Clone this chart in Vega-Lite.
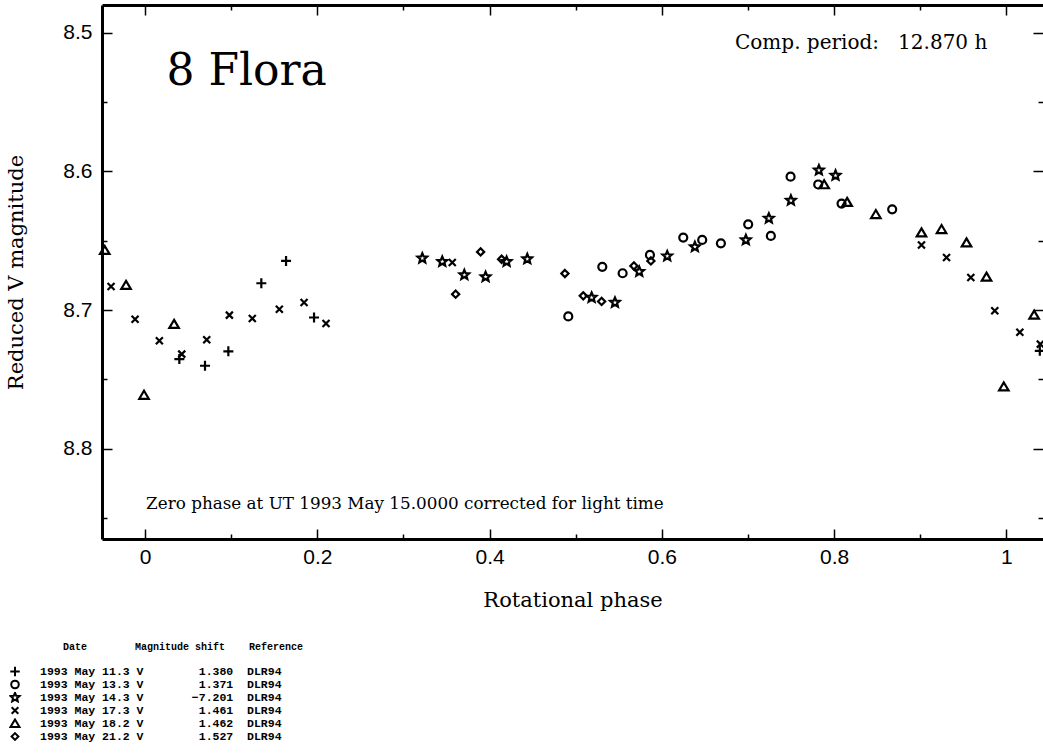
{
  "$schema": "https://vega.github.io/schema/vega-lite/v6.json",
  "autosize": {"type": "none"},
  "width": 941,
  "height": 534,
  "padding": {"left": 102, "top": 5, "right": 0, "bottom": 217},
  "background": "white",
  "config": {
    "view": {"stroke": null},
    "axis": {"grid": false, "domainColor": "black", "tickColor": "black", "labelColor": "black", "titleColor": "black", "tickWidth": 1.5},
    "text": {"color": "black"}
  },
  "datasets": {
    "sessions": [
      {"date": "1993 May 11.3", "band": "V", "shift": "1.380", "ref": "DLR94"},
      {"date": "1993 May 13.3", "band": "V", "shift": "1.371", "ref": "DLR94"},
      {"date": "1993 May 14.3", "band": "V", "shift": "\u22127.201", "ref": "DLR94"},
      {"date": "1993 May 17.3", "band": "V", "shift": "1.461", "ref": "DLR94"},
      {"date": "1993 May 18.2", "band": "V", "shift": "1.462", "ref": "DLR94"},
      {"date": "1993 May 21.2", "band": "V", "shift": "1.527", "ref": "DLR94"}
    ],
    "points": [
      {"date": "1993 May 11.3", "phase": 0.0398, "mag": 8.7353},
      {"date": "1993 May 11.3", "phase": 0.0696, "mag": 8.7401},
      {"date": "1993 May 11.3", "phase": 0.0967, "mag": 8.7297},
      {"date": "1993 May 11.3", "phase": 0.135, "mag": 8.6806},
      {"date": "1993 May 11.3", "phase": 0.1637, "mag": 8.6645},
      {"date": "1993 May 11.3", "phase": 0.1962, "mag": 8.7053},
      {"date": "1993 May 11.3", "phase": 1.0389, "mag": 8.7293},
      {"date": "1993 May 13.3", "phase": 0.4914, "mag": 8.7045},
      {"date": "1993 May 13.3", "phase": 0.5309, "mag": 8.6688},
      {"date": "1993 May 13.3", "phase": 0.5545, "mag": 8.6734},
      {"date": "1993 May 13.3", "phase": 0.5862, "mag": 8.6602},
      {"date": "1993 May 13.3", "phase": 0.6249, "mag": 8.6477},
      {"date": "1993 May 13.3", "phase": 0.6469, "mag": 8.6494},
      {"date": "1993 May 13.3", "phase": 0.6686, "mag": 8.6518},
      {"date": "1993 May 13.3", "phase": 0.7003, "mag": 8.6381},
      {"date": "1993 May 13.3", "phase": 0.7266, "mag": 8.6465},
      {"date": "1993 May 13.3", "phase": 0.7495, "mag": 8.6038},
      {"date": "1993 May 13.3", "phase": 0.7816, "mag": 8.6094},
      {"date": "1993 May 13.3", "phase": 0.8087, "mag": 8.6232},
      {"date": "1993 May 13.3", "phase": 0.8675, "mag": 8.6273},
      {"date": "1993 May 14.3", "phase": 0.3219, "mag": 8.6626},
      {"date": "1993 May 14.3", "phase": 0.3451, "mag": 8.665},
      {"date": "1993 May 14.3", "phase": 0.3707, "mag": 8.6746},
      {"date": "1993 May 14.3", "phase": 0.3954, "mag": 8.676},
      {"date": "1993 May 14.3", "phase": 0.4198, "mag": 8.665},
      {"date": "1993 May 14.3", "phase": 0.4438, "mag": 8.6631},
      {"date": "1993 May 14.3", "phase": 0.5185, "mag": 8.6909},
      {"date": "1993 May 14.3", "phase": 0.5456, "mag": 8.6945},
      {"date": "1993 May 14.3", "phase": 0.5738, "mag": 8.6722},
      {"date": "1993 May 14.3", "phase": 0.6063, "mag": 8.661},
      {"date": "1993 May 14.3", "phase": 0.6384, "mag": 8.6544},
      {"date": "1993 May 14.3", "phase": 0.6976, "mag": 8.6494},
      {"date": "1993 May 14.3", "phase": 0.7243, "mag": 8.6338},
      {"date": "1993 May 14.3", "phase": 0.7499, "mag": 8.6209},
      {"date": "1993 May 14.3", "phase": 0.7824, "mag": 8.5991},
      {"date": "1993 May 14.3", "phase": 0.8017, "mag": 8.6029},
      {"date": "1993 May 17.3", "phase": -0.0395, "mag": 8.683},
      {"date": "1993 May 17.3", "phase": -0.0116, "mag": 8.7065},
      {"date": "1993 May 17.3", "phase": 0.0166, "mag": 8.7221},
      {"date": "1993 May 17.3", "phase": 0.0426, "mag": 8.7317},
      {"date": "1993 May 17.3", "phase": 0.0716, "mag": 8.7214},
      {"date": "1993 May 17.3", "phase": 0.0979, "mag": 8.7036},
      {"date": "1993 May 17.3", "phase": 0.1245, "mag": 8.706},
      {"date": "1993 May 17.3", "phase": 0.1559, "mag": 8.6993},
      {"date": "1993 May 17.3", "phase": 0.1846, "mag": 8.6945},
      {"date": "1993 May 17.3", "phase": 0.2101, "mag": 8.7096},
      {"date": "1993 May 17.3", "phase": 0.3567, "mag": 8.6657},
      {"date": "1993 May 17.3", "phase": 0.9015, "mag": 8.653},
      {"date": "1993 May 17.3", "phase": 0.9306, "mag": 8.6621},
      {"date": "1993 May 17.3", "phase": 0.9588, "mag": 8.6765},
      {"date": "1993 May 17.3", "phase": 0.9866, "mag": 8.7005},
      {"date": "1993 May 17.3", "phase": 1.0157, "mag": 8.716},
      {"date": "1993 May 17.3", "phase": 1.0395, "mag": 8.7245},
      {"date": "1993 May 18.2", "phase": -0.0468, "mag": 8.6568},
      {"date": "1993 May 18.2", "phase": -0.0221, "mag": 8.682},
      {"date": "1993 May 18.2", "phase": -0.0012, "mag": 8.7612},
      {"date": "1993 May 18.2", "phase": 0.0337, "mag": 8.7101},
      {"date": "1993 May 18.2", "phase": 0.7885, "mag": 8.6094},
      {"date": "1993 May 18.2", "phase": 0.8152, "mag": 8.6221},
      {"date": "1993 May 18.2", "phase": 0.8485, "mag": 8.6309},
      {"date": "1993 May 18.2", "phase": 0.9015, "mag": 8.6441},
      {"date": "1993 May 18.2", "phase": 0.9248, "mag": 8.6417},
      {"date": "1993 May 18.2", "phase": 0.9538, "mag": 8.6513},
      {"date": "1993 May 18.2", "phase": 0.977, "mag": 8.676},
      {"date": "1993 May 18.2", "phase": 0.9971, "mag": 8.7552},
      {"date": "1993 May 18.2", "phase": 1.0323, "mag": 8.7034},
      {"date": "1993 May 21.2", "phase": 0.3606, "mag": 8.6885},
      {"date": "1993 May 21.2", "phase": 0.3896, "mag": 8.658},
      {"date": "1993 May 21.2", "phase": 0.414, "mag": 8.6633},
      {"date": "1993 May 21.2", "phase": 0.4875, "mag": 8.6736},
      {"date": "1993 May 21.2", "phase": 0.5088, "mag": 8.6897},
      {"date": "1993 May 21.2", "phase": 0.5301, "mag": 8.6937},
      {"date": "1993 May 21.2", "phase": 0.5676, "mag": 8.6681},
      {"date": "1993 May 21.2", "phase": 0.5873, "mag": 8.6645}
    ]
  },
  "layer": [
    {
      "data": {"name": "points"},
      "transform": [
        {"lookup": "date", "from": {"data": {"name": "sessions"}, "key": "date", "fields": ["band", "shift", "ref"]}},
        {"calculate": "datum.date + '\u00a0' + datum.band + pad(datum.shift, 13, '\u00a0', 'left') + '\u00a0\u00a0' + datum.ref", "as": "key"}
      ],
      "mark": {"type": "point", "filled": false, "color": "black", "strokeWidth": 2.2, "size": 100, "opacity": 1},
      "encoding": {
        "x": {
          "field": "phase", "type": "quantitative",
          "scale": {"domain": [-0.05, 1.0426], "nice": false, "zero": false},
          "axis": {"orient": "bottom", "values": [0, 0.2, 0.4, 0.6, 0.8, 1], "format": "~g", "tickSize": -10, "labelPadding": 17,
            "labelFont": "Liberation Sans Narrow, Liberation Sans, sans-serif", "labelFontSize": 21, "domainWidth": 3,
            "title": "Rotational phase", "titleFont": "DejaVu Serif", "titleFontSize": 21, "titleFontWeight": "normal", "titlePadding": 22}
        },
        "y": {
          "field": "mag", "type": "quantitative",
          "scale": {"domain": [8.48, 8.865], "reverse": true, "nice": false, "zero": false},
          "axis": {"orient": "left", "values": [8.5, 8.6, 8.7, 8.8], "format": ".1f", "tickSize": -10, "labelPadding": 20,
            "labelFont": "Liberation Sans Narrow, Liberation Sans, sans-serif", "labelFontSize": 21, "domainWidth": 3,
            "title": "Reduced V magnitude", "titleFont": "DejaVu Serif", "titleFontSize": 21, "titleFontWeight": "normal", "titlePadding": 36}
        },
        "shape": {
          "field": "key", "type": "nominal",
          "scale": {"range": [
            "M-1,0L1,0M0,-1L0,1",
            "M-0.8,0A0.8,0.8,0,1,0,0.8,0A0.8,0.8,0,1,0,-0.8,0Z",
            "M0,-1L0.265,-0.364L0.951,-0.309L0.428,0.139L0.588,0.809L0,0.45L-0.588,0.809L-0.428,0.139L-0.951,-0.309L-0.265,-0.364Z",
            "M-0.7,-0.7L0.7,0.7M-0.7,0.7L0.7,-0.7",
            "M0,-0.85L0.95,0.75L-0.95,0.75Z",
            "M0,-0.72L0.72,0L0,0.72L-0.72,0Z"
          ]},
          "legend": {
            "orient": "none", "legendX": -93, "legendY": 637, "padding": 0,
            "title": "\u200b\u00a0\u00a0\u00a0\u00a0\u00a0\u00a0\u00a0\u00a0\u00a0Date\u00a0\u00a0\u00a0\u00a0\u00a0\u00a0\u00a0\u00a0Magnitude shift\u00a0\u00a0\u00a0\u00a0Reference",
            "titleFont": "Liberation Mono", "titleFontSize": 10, "titleFontWeight": "bold", "titleColor": "black", "titlePadding": 14, "titleLimit": 500,
            "labelFont": "Liberation Mono", "labelFontSize": 11.5, "labelFontWeight": "bold", "labelColor": "black", "labelOffset": 19, "labelLimit": 500,
            "symbolSize": 90, "symbolStrokeWidth": 2, "symbolStrokeColor": "black", "symbolFillColor": "transparent", "rowPadding": 1, "clipHeight": 11
          }
        }
      }
    },
    {
      "data": {"values": [{}]},
      "mark": {"type": "text", "text": "8 Flora", "font": "DejaVu Serif", "fontSize": 44, "align": "center", "baseline": "middle"},
      "encoding": {
        "x": {"datum": 0.118, "type": "quantitative", "scale": {"domain": [-0.05, 1.0426], "nice": false, "zero": false},
          "axis": {"orient": "top", "values": [0, 0.2, 0.4, 0.6, 0.8, 1], "tickSize": -10, "labels": false, "domainWidth": 3, "title": null}},
        "y": {"datum": 8.528, "type": "quantitative", "scale": {"domain": [8.48, 8.865], "reverse": true, "nice": false, "zero": false},
          "axis": {"orient": "right", "values": [8.5, 8.6, 8.7, 8.8], "tickSize": -10, "labels": false, "domain": false, "title": null}}
      }
    },
    {
      "data": {"values": [{}]},
      "mark": {"type": "text", "text": "Comp. period:\u00a0\u00a0 12.870 h", "font": "DejaVu Serif", "fontSize": 20, "align": "left", "baseline": "middle"},
      "encoding": {
        "x": {"datum": 0.685, "type": "quantitative", "scale": {"domain": [-0.05, 1.0426], "nice": false, "zero": false},
          "axis": {"orient": "bottom", "values": [0.1, 0.3, 0.5, 0.7, 0.9], "tickSize": -5, "labels": false, "domain": false, "title": null}},
        "y": {"datum": 8.5072, "type": "quantitative", "scale": {"domain": [8.48, 8.865], "reverse": true, "nice": false, "zero": false},
          "axis": {"orient": "left", "values": [8.55, 8.65, 8.75, 8.85], "tickSize": -5, "labels": false, "domain": false, "title": null}}
      }
    },
    {
      "data": {"values": [{}]},
      "mark": {"type": "text", "text": "Zero phase at UT 1993 May 15.0000 corrected for light time", "font": "DejaVu Serif", "fontSize": 16.8, "align": "left", "baseline": "middle"},
      "encoding": {
        "x": {"datum": 0.0012, "type": "quantitative", "scale": {"domain": [-0.05, 1.0426], "nice": false, "zero": false},
          "axis": {"orient": "top", "values": [0.1, 0.3, 0.5, 0.7, 0.9], "tickSize": -5, "labels": false, "domain": false, "title": null}},
        "y": {"datum": 8.8396, "type": "quantitative", "scale": {"domain": [8.48, 8.865], "reverse": true, "nice": false, "zero": false},
          "axis": {"orient": "right", "values": [8.55, 8.65, 8.75, 8.85], "tickSize": -5, "labels": false, "domain": false, "title": null}}
      }
    }
  ],
  "resolve": {"axis": {"x": "independent", "y": "independent"}}
}
